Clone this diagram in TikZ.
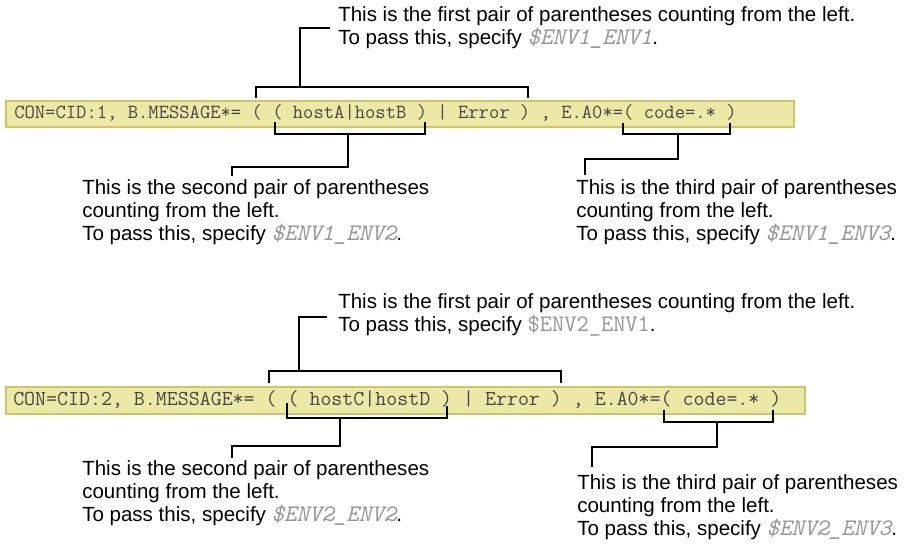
\documentclass[tikz,border=0pt]{standalone}
\usepackage{fontspec}
\setmainfont{Liberation Sans}
\definecolor{barfill}{RGB}{236,232,166}
\definecolor{barline}{RGB}{204,198,100}
\definecolor{codegray}{RGB}{70,70,70}
\definecolor{envgray}{RGB}{150,150,150}
\newcommand\envit[1]{\textcolor{envgray}{\ttfamily\fontsize{17.8pt}{17.25pt}\selectfont\itshape #1}}
\newcommand\envup[1]{\textcolor{envgray}{\ttfamily\fontsize{17.8pt}{17.25pt}\selectfont #1}}
\begin{document}
\begin{tikzpicture}[x=0.75pt,y=-0.75pt,
  bar/.style={draw=barline, line width=1.5pt, fill=barfill, rectangle, inner sep=0pt, anchor=north west},
  code/.style={inner sep=0pt, anchor=base west, text=codegray, font=\ttfamily\fontsize{15.03pt}{16pt}\selectfont},
  codeb/.style={code, font=\ttfamily\fontsize{15.98pt}{17pt}\selectfont},
  note/.style={inner sep=0pt, anchor=base west, font=\fontsize{15.4pt}{17.25pt}\selectfont},
  brk/.style={line width=1.4pt, black}]
\useasboundingbox (0,0) rectangle (904,547);

% ---------------- Row 1 ----------------
\node[bar, minimum width=591pt, minimum height=19.5pt] (bar1) at (5,100) {};
\node[code] (code1) at (14,118) {CON=CID:1, B.MESSAGE*= ( ( hostA|hostB ) | Error ) , E.A0*=( code=.* )};

\node[note] (a1l1) at (338,21) {This is the first pair of parentheses counting from the left.};
\node[note] (a1l2) at (338,44) {To pass this, specify \envit{\$ENV1\_ENV1}.};

\node[note] (b1l1) at (82,194) {This is the second pair of parentheses};
\node[note] (b1l2) at (82,217) {counting from the left.};
\node[note] (b1l3) at (82,240) {To pass this, specify \envit{\$ENV1\_ENV2}.};

\node[note] (c1l1) at (576,194) {This is the third pair of parentheses};
\node[note] (c1l2) at (576,217) {counting from the left.};
\node[note] (c1l3) at (576,240) {To pass this, specify \envit{\$ENV1\_ENV3}.};

\coordinate (a1l) at (256,98);
\coordinate (a1r) at (528,98);
\coordinate (a1s) at (300,87);
\coordinate (a1t) at (330,28);
\draw[brk] (a1l) |- (a1s) -| (a1r);
\draw[brk] (a1s) |- (a1t);

\coordinate (b1l) at (275,122);
\coordinate (b1r) at (425,122);
\coordinate (b1s) at (348,134);
\coordinate (b1k) at (232,167);
\coordinate (b1e) at (232,176);
\draw[brk] (b1l) |- (b1s) -| (b1r);
\draw[brk] (b1s) |- (b1k) -- (b1e);

\coordinate (c1l) at (623,123);
\coordinate (c1r) at (730,123);
\coordinate (c1s) at (678,134);
\coordinate (c1k) at (585,159);
\coordinate (c1e) at (585,175);
\draw[brk] (c1l) |- (c1s) -| (c1r);
\draw[brk] (c1s) |- (c1k) -- (c1e);

% ---------------- Row 2 ----------------
\node[bar, minimum width=599.25pt, minimum height=20.25pt] (bar2) at (5,386) {};
\node[codeb] (code2) at (13,405) {CON=CID:2, B.MESSAGE*= ( ( hostC|hostD ) | Error ) , E.A0*=( code=.* )};

\node[note] (a2l1) at (338,308) {This is the first pair of parentheses counting from the left.};
\node[note] (a2l2) at (338,331) {To pass this, specify \envup{\$ENV2\_ENV1}.};

\node[note] (b2l1) at (82,475) {This is the second pair of parentheses};
\node[note] (b2l2) at (82,498) {counting from the left.};
\node[note] (b2l3) at (82,521) {To pass this, specify \envit{\$ENV2\_ENV2}.};

\node[note] (c2l1) at (577,489) {This is the third pair of parentheses};
\node[note] (c2l2) at (577,512) {counting from the left.};
\node[note] (c2l3) at (577,535) {To pass this, specify \envit{\$ENV2\_ENV3}.};

\coordinate (a2l) at (269,383);
\coordinate (a2r) at (561,383);
\coordinate (a2s) at (299,371);
\coordinate (a2t) at (327,317);
\draw[brk] (a2l) |- (a2s) -| (a2r);
\draw[brk] (a2s) |- (a2t);

\coordinate (b2l) at (287,403);
\coordinate (b2r) at (447,406);
\coordinate (b2s) at (340,418);
\coordinate (b2k) at (232,446);
\coordinate (b2e) at (232,458);
\draw[brk] (b2l) |- (b2s) -| (b2r);
\draw[brk] (b2s) |- (b2k) -- (b2e);

\coordinate (c2l) at (664,410);
\coordinate (c2r) at (773,410);
\coordinate (c2s) at (717,422);
\coordinate (c2k) at (592,447);
\coordinate (c2e) at (592,467);
\draw[brk] (c2l) |- (c2s) -| (c2r);
\draw[brk] (c2s) |- (c2k) -- (c2e);
\end{tikzpicture}
\end{document}
